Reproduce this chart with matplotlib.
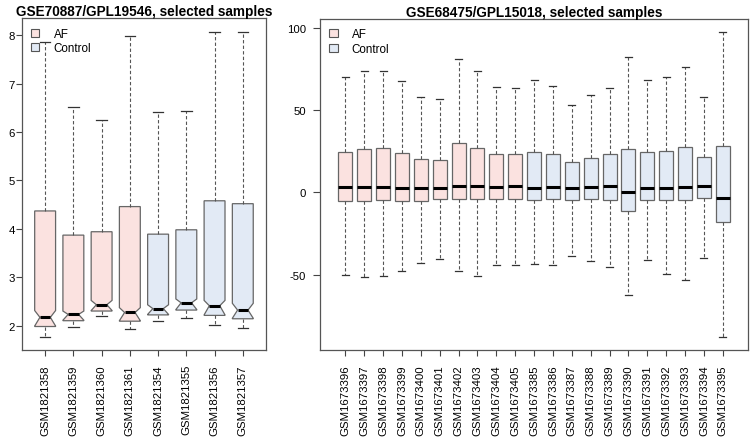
import matplotlib
matplotlib.use('Agg')
import matplotlib.pyplot as plt
from matplotlib.patches import Patch

plt.rcParams['font.family'] = ['Liberation Sans', 'DejaVu Sans']
plt.rcParams['axes.unicode_minus'] = False

# GSE70887 / GPL19546 (notched boxes)
left_title = 'GSE70887/GPL19546, selected samples'
left_labels = ['GSM1821358', 'GSM1821359', 'GSM1821360', 'GSM1821361',
               'GSM1821354', 'GSM1821355', 'GSM1821356', 'GSM1821357']
left_groups = ['AF', 'AF', 'AF', 'AF', 'Control', 'Control', 'Control', 'Control']
left_whislo = [1.77, 1.98, 2.19, 1.92, 2.10, 2.16, 2.01, 1.94]
left_q1 = [1.98, 2.10, 2.30, 2.09, 2.22, 2.32, 2.21, 2.14]
left_med = [2.17, 2.23, 2.43, 2.27, 2.35, 2.47, 2.41, 2.32]
left_q3 = [4.37, 3.87, 3.94, 4.46, 3.89, 3.98, 4.58, 4.52]
left_whishi = [7.87, 6.52, 6.25, 7.99, 6.41, 6.44, 8.07, 8.07]
left_cilo = [1.99, 2.11, 2.31, 2.10, 2.23, 2.33, 2.22, 2.15]
left_cihi = [2.31, 2.30, 2.52, 2.37, 2.43, 2.55, 2.52, 2.46]

# GSE68475 / GPL15018
right_title = 'GSE68475/GPL15018, selected samples'
right_labels = ['GSM1673396', 'GSM1673397', 'GSM1673398', 'GSM1673399', 'GSM1673400',
                'GSM1673401', 'GSM1673402', 'GSM1673403', 'GSM1673404', 'GSM1673405',
                'GSM1673385', 'GSM1673386', 'GSM1673387', 'GSM1673388', 'GSM1673389',
                'GSM1673390', 'GSM1673391', 'GSM1673392', 'GSM1673393', 'GSM1673394',
                'GSM1673395']
right_groups = ['AF'] * 10 + ['Control'] * 11
right_whislo = [-50.3, -51.3, -50.9, -47.7, -42.8, -40.6, -47.9, -50.9, -44.0, -44.0,
                -43.4, -44.4, -38.9, -42.0, -45.2, -62.3, -41.2, -49.5, -53.2, -40.0, -87.8]
right_q1 = [-5.1, -5.1, -4.7, -5.1, -5.3, -4.3, -3.9, -4.3, -3.9, -3.9,
            -4.7, -4.1, -4.7, -4.3, -4.5, -11.2, -4.7, -4.9, -4.9, -3.5, -18.2]
right_med = [3.0, 3.0, 3.3, 2.4, 2.4, 2.8, 4.1, 3.6, 3.4, 4.1,
             2.6, 3.4, 2.6, 3.2, 3.6, 0.4, 2.6, 2.8, 3.0, 3.6, -3.7]
right_q3 = [24.7, 26.5, 26.7, 23.9, 20.1, 19.9, 30.2, 26.7, 23.5, 23.1,
            24.7, 23.5, 18.6, 21.0, 23.1, 26.1, 24.7, 25.1, 27.4, 21.3, 28.2]
right_whishi = [69.9, 74.0, 74.0, 67.5, 57.8, 56.8, 81.1, 73.6, 63.9, 63.3,
                68.5, 64.5, 53.3, 59.4, 63.6, 82.3, 68.3, 70.1, 76.0, 58.0, 97.7]

colors = {'AF': '#fbe2e0', 'Control': '#e2eaf5'}


def make_stats(labels, lo, q1, med, q3, hi, cilo=None, cihi=None):
    stats = []
    for i in range(len(labels)):
        d = dict(label=labels[i], whislo=lo[i], q1=q1[i], med=med[i], q3=q3[i], whishi=hi[i])
        if cilo is not None:
            d['cilo'] = cilo[i]
            d['cihi'] = cihi[i]
        stats.append(d)
    return stats


def draw(ax, stats, groups, title, notch, ylim, yticks, ylen, ypad):
    n = len(stats)
    bp = ax.bxp(stats, positions=range(1, n + 1), widths=0.74, shownotches=notch,
                patch_artist=True, showfliers=False,
                boxprops=dict(edgecolor='#666666', linewidth=0.9),
                medianprops=dict(color='black', linewidth=2.2, solid_capstyle='butt'),
                whiskerprops=dict(color='#555555', linewidth=0.8, linestyle=(0, (3, 2))),
                capprops=dict(color='#333333', linewidth=0.9))
    for box, g in zip(bp['boxes'], groups):
        box.set_facecolor(colors[g])
    # R style axis range: 4% padding
    ax.set_xlim(0.5 - 0.04 * n, n + 0.5 + 0.04 * n)
    ax.set_ylim(*ylim)
    ax.set_yticks(yticks)
    ax.tick_params(axis='x', labelrotation=90, labelsize=8.2, length=4.3, pad=6,
                   color='#444444')
    ax.tick_params(axis='y', labelsize=8.2, length=ylen, pad=ypad, color='#444444')
    for s in ax.spines.values():
        s.set_color('#555555')
        s.set_linewidth(0.9)
    ax.set_title(title, fontsize=9.8, fontweight='bold', pad=2.5)
    handles = [Patch(facecolor=colors['AF'], edgecolor='#555555', linewidth=0.8, label='AF'),
               Patch(facecolor=colors['Control'], edgecolor='#555555', linewidth=0.8, label='Control')]
    ax.legend(handles=handles, loc='upper left', frameon=False, fontsize=8.4,
              handlelength=0.7, handleheight=0.7, handletextpad=1.2,
              labelspacing=0.2, borderaxespad=0.4)


fig = plt.figure(figsize=(7.5, 4.39), dpi=100)
ax1 = fig.add_axes([0.0293, 0.2011, 0.3253, 0.7545])
ax2 = fig.add_axes([0.4267, 0.2011, 0.5707, 0.7533])

draw(ax1, make_stats(left_labels, left_whislo, left_q1, left_med, left_q3, left_whishi,
                     left_cilo, left_cihi),
     left_groups, left_title, True, (1.50, 8.35), [2, 3, 4, 5, 6, 7, 8], 4.1, 1.2)
draw(ax2, make_stats(right_labels, right_whislo, right_q1, right_med, right_q3, right_whishi),
     right_groups, right_title, False, (-95.7, 105.4), [-50, 0, 50, 100], 5, 5)

fig.savefig('out.png', dpi=100)
